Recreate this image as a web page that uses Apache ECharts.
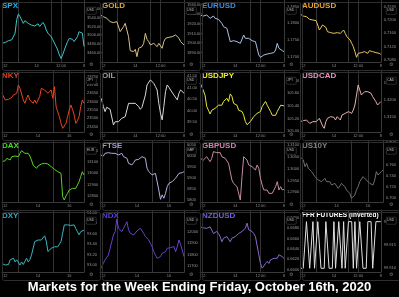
<!DOCTYPE html>
<html><head><meta charset="utf-8">
<script src="https://cdn.jsdelivr.net/npm/echarts/dist/echarts.min.js"></script>
<style>html,body{margin:0;padding:0;background:#000;}#c{width:399px;height:297px;}</style>
</head><body><div id="c"></div>
<script>
// ---- data ----
const panelNames = ['SPX','GOLD','EURUSD','AUDUSD','NKY','OIL','USDJPY','USDCAD','DAX','FTSE','GBPUSD','US10Y','DXY','NDX','NZDUSD','FFR FUTURES (Inverted)'];
const currencies = ['USD','USD','USD','USD','JPY','USD','JPY','CAD','EUR','GBP','USD','USD','USD','USD','USD','USD'];

const spx = [3482,3483,3484,3487,3488,3489,3490,3494,3505,3535,3548,3542,3538,3527,3533,3531,3527,3526,3523,3527,3521,3523,3526,3520,3523,3529,3523,3512,3505,3508,3497,3490,3486,3475,3467,3456,3448,3456,3467,3471,3486,3493,3490,3491,3486,3490,3497,3508,3512,3505,3475];
const gold = [1929.4,1928.3,1927.6,1929.4,1925.9,1924.1,1922.4,1924.1,1921.3,1923.4,1922.4,1920.6,1911.9,1910.1,1917.1,1920.6,1921.3,1906.6,1891.9,1892.6,1890.9,1893.3,1885.6,1894.4,1892.6,1896.1,1899.6,1910.1,1903.8,1901.4,1897.9,1896.1,1899.6,1897.9,1896.1,1899.6,1897.9,1894.4,1901.4,1904.9,1906.6,1905.9,1907.3,1906.6,1904.9,1908.4,1910.1,1904.9,1901.4,1899.6,1897.9];
const eurusd = [1.1825,1.1824,1.1822,1.1820,1.1825,1.1820,1.1815,1.1820,1.1822,1.1815,1.1810,1.1812,1.1808,1.1800,1.1790,1.1795,1.1785,1.1780,1.1745,1.1750,1.1748,1.1742,1.1745,1.1748,1.1740,1.1745,1.1765,1.1755,1.1750,1.1755,1.1752,1.1748,1.1752,1.1745,1.1725,1.1705,1.1698,1.1700,1.1705,1.1710,1.1708,1.1712,1.1710,1.1715,1.1712,1.1720,1.1740,1.1725,1.1722,1.1718,1.1715];
const audusd = [0.7218,0.7215,0.7212,0.7208,0.7210,0.7205,0.7202,0.7198,0.7200,0.7195,0.7198,0.7192,0.7170,0.7175,0.7185,0.7182,0.7178,0.7165,0.7160,0.7162,0.7158,0.7160,0.7165,0.7162,0.7158,0.7160,0.7165,0.7170,0.7160,0.7150,0.7145,0.7140,0.7130,0.7120,0.7105,0.7088,0.7100,0.7105,0.7102,0.7098,0.7105,0.7102,0.7100,0.7108,0.7102,0.7105,0.7100,0.7102,0.7098,0.7100,0.7097];
const nky = [23650,23640,23610,23620,23614,23614,23626,23640,23630,23650,23700,23680,23690,23610,23590,23620,23640,23610,23600,23590,23610,23590,23600,23630,23680,23690,23670,23680,23650,23640,23670,23620,23690,23570,23540,23510,23470,23440,23430,23470,23510,23550,23580,23554,23520,23470,23486,23510,23570,23610,23590];
const oil = [40.60,40.46,40.17,39.95,40.14,40.09,40.05,40.02,39.37,39.51,39.56,39.51,39.59,39.66,39.59,39.73,40.02,40.31,40.34,40.31,40.38,40.31,40.24,40.17,40.05,40.14,40.09,40.67,41.11,41.15,41.33,41.33,41.18,41.04,40.89,40.31,39.88,39.59,40.17,40.82,41.11,41.01,40.89,40.82,40.67,40.75,40.46,40.75,40.89,40.82,40.75];
const usdjpy = [105.76,105.71,105.71,105.57,105.39,105.33,105.27,105.33,105.31,105.36,105.36,105.41,105.44,105.41,105.47,105.49,105.52,105.47,105.59,105.55,105.44,105.47,105.41,105.33,105.34,105.31,105.25,105.15,105.10,105.12,105.15,105.18,105.23,105.20,105.28,105.25,105.31,105.39,105.36,105.47,105.41,105.36,105.31,105.25,105.23,105.25,105.31,105.36,105.41,105.41,105.40];
const usdcad = [1.3135,1.3140,1.3138,1.3142,1.3140,1.3135,1.3130,1.3132,1.3135,1.3130,1.3135,1.3140,1.3145,1.3140,1.3122,1.3115,1.3135,1.3145,1.3142,1.3150,1.3145,1.3148,1.3140,1.3150,1.3145,1.3140,1.3155,1.3150,1.3160,1.3155,1.3165,1.3160,1.3160,1.3170,1.3185,1.3215,1.3245,1.3240,1.3215,1.3220,1.3225,1.3230,1.3225,1.3230,1.3220,1.3210,1.3205,1.3195,1.3185,1.3190,1.3195];
const dax = [13105,13120,13114,13135,13126,13120,13150,13144,13156,13165,13150,13180,13204,13195,13180,13165,13180,13156,13120,13075,13060,13045,13066,13075,13084,13075,13090,13096,13084,13090,13060,13045,13036,13030,13015,13006,13000,12790,12760,12796,12820,12850,12835,12865,12880,12865,12895,12925,12970,13015,12985];
const ftse = [6003,6007,5998,6010,6003,6013,6007,6010,6018,6010,6013,6003,6007,6010,5995,5998,5988,5965,5973,5958,5968,5980,5973,5983,5988,5995,5998,5988,5943,5928,5920,5913,5905,5920,5913,5845,5803,5823,5808,5830,5860,5875,5868,5883,5875,5898,5905,5920,5913,5923,5928];
const gbpusd = [1.3043,1.3050,1.3036,1.3043,1.3050,1.3039,1.3029,1.3043,1.3071,1.3064,1.3067,1.3061,1.3067,1.3050,1.3057,1.3043,1.3050,1.3022,1.2987,1.2952,1.2938,1.2941,1.2924,1.2931,1.2868,1.2966,1.3050,1.3050,1.3036,1.3015,1.3022,1.3008,1.3015,1.2994,1.3015,1.3001,1.2959,1.2931,1.2910,1.2903,1.2910,1.2896,1.2903,1.2896,1.2910,1.2924,1.2945,1.2910,1.2924,1.2910,1.2913];
const us10y = [0.774,0.777,0.768,0.756,0.762,0.753,0.750,0.747,0.744,0.738,0.735,0.732,0.735,0.729,0.732,0.735,0.729,0.726,0.729,0.723,0.720,0.726,0.723,0.717,0.720,0.726,0.723,0.720,0.714,0.711,0.708,0.699,0.702,0.705,0.714,0.720,0.729,0.732,0.738,0.735,0.732,0.729,0.726,0.729,0.723,0.732,0.747,0.741,0.741,0.747,0.750];
const dxy = [93.03,93.06,93.00,93.03,93.01,93.10,93.08,93.13,93.06,93.10,93.13,93.00,93.06,93.01,93.03,93.13,93.06,93.10,93.19,93.16,93.45,93.45,93.48,93.46,93.48,93.51,93.56,93.46,93.26,93.26,93.32,93.33,93.35,93.32,93.35,93.38,93.45,93.61,93.77,93.76,93.77,93.80,93.76,93.78,93.77,93.70,93.64,93.58,93.64,93.65,93.67];
const ndx = [11665,11694,11723,11752,11766,11795,11853,11911,11969,11998,12108,12027,12042,11998,12027,12056,12085,12013,11984,11998,11969,11984,12004,11998,12027,12042,11984,11955,11940,11926,11897,11868,11824,11795,11766,11752,11781,11810,11795,11824,11853,11847,11859,11853,11868,11824,11868,11926,11888,11897,11781];
const nzdusd = [0.6683,0.6680,0.6681,0.6679,0.6680,0.6677,0.6683,0.6680,0.6670,0.6667,0.6674,0.6670,0.6664,0.6654,0.6661,0.6658,0.6664,0.6661,0.6654,0.6661,0.6658,0.6664,0.6667,0.6670,0.6667,0.6674,0.6677,0.6680,0.6690,0.6677,0.6680,0.6674,0.6670,0.6664,0.6661,0.6629,0.6612,0.6603,0.6607,0.6612,0.6616,0.6612,0.6619,0.6616,0.6622,0.6625,0.6622,0.6629,0.6632,0.6625,0.6622];
const ffr = [99.910,99.910,99.910,99.910,99.920,99.920,99.910,99.910,99.920,99.910,99.910,99.920,99.920,99.910,99.910,99.910,99.920,99.920,99.910,99.910,99.910,99.920,99.910,99.910,99.920,99.920,99.910,99.920,99.910,99.910,99.920,99.920,99.920,99.910,99.920,99.910,99.910,99.920,99.920,99.910,99.910,99.910,99.920,99.920,99.920,99.910,99.910,99.920,99.920,99.920,99.920];
const panelSeries = [spx,gold,eurusd,audusd,nky,oil,usdjpy,usdcad,dax,ftse,gbpusd,us10y,dxy,ndx,nzdusd,ffr];

// y-axis bounds and tick steps
const yMins  = [3440, 1880, 1.1684, 0.7074, 23418, 39.063, 104.984, 1.3104, 12742, 5791, 1.28596, 0.6924, 92.866, 11647, 0.65955, 99.9092];
const yMaxs  = [3579.5, 1945.1, 1.1870, 0.7260, 23790, 41.76, 105.97, 1.3290, 13300, 6070, 1.3120, 0.804, 94.056, 12186.5, 0.67155, 99.9225];
const ySteps = [20, 10, 0.005, 0.004, 50, 0.5, 0.2, 0.005, 100, 50, 0.005, 0.02, 0.2, 100, 0.002, 0.005];
const yDecimals = [2, 2, 4, 4, 0, 2, 2, 4, 0, 0, 4, 3, 2, 0, 4, 3];

// x tick labels: [index, label]
const xTicksWeek = [[2,'12'],[21,'14'],[36,'12:00'],[50,'8']];
const xTicksDays = [[2,'12'],[22,'14'],[41,'16']];
const xSplitsWeek = [10, 30, 36];
const xSplitsDays = [10, 31, 41];
const panelXTicks = [xTicksWeek,xTicksWeek,xTicksWeek,xTicksWeek, xTicksDays,xTicksWeek,xTicksWeek,xTicksWeek, xTicksDays,xTicksDays,xTicksWeek,xTicksDays, xTicksDays,xTicksDays,xTicksWeek,xTicksWeek];
const panelXSplits = [xSplitsWeek,xSplitsWeek,xSplitsWeek,xSplitsWeek, xSplitsDays,xSplitsWeek,xSplitsWeek,xSplitsWeek, xSplitsDays,xSplitsDays,xSplitsWeek,xSplitsDays, xSplitsDays,xSplitsDays,xSplitsWeek,xSplitsWeek];

const mainTitle = 'Markets for the Week Ending Friday, October 16th, 2020';

// ---- styles ----
const lineColors  = ['#3fc4c8','#d8c088','#a8c4e8','#e6c65a','#e8461e','#d8d8d8','#e8e830','#e8b0b0','#5ad21e','#b4aee0','#c88aa8','#6e6e6e','#3cb4c0','#6a40d0','#8a6ad0','#e0e0e0'];
const titleColors = ['#22b4e8','#e8a820','#3a8ae8','#e8a030','#f03a1e','#a0a0a0','#f0f020','#e890c0','#40e020','#9a9ad8','#d880b0','#808080','#30a8c8','#5a3ae0','#7a5ae0','#ffffff'];
const titleSizes  = [8,8,8,8,8,8,8,8,8,8,8,8,8,8,8,6.5];

const PW = 100, PH = 70, PLOT_W = 84, PLOT_H = 62;
const grids = [], xAxes = [], yAxes = [], series = [], titles = [], graphics = [];

panelSeries.forEach((data, i) => {
  const px = (i % 4) * PW, py = Math.floor(i / 4) * PH;
  grids.push({left: px, top: py, width: PLOT_W, height: PLOT_H, show: false});
  const tickMap = {}; panelXTicks[i].forEach(t => tickMap[t[0]] = t[1]);
  const splits = panelXSplits[i];
  xAxes.push({
    type: 'category', gridIndex: i, boundaryGap: false,
    data: data.map((_, k) => k),
    axisLine: {show: true, lineStyle: {color: '#3a3a3a', width: 1}},
    axisTick: {show: false},
    axisLabel: {show: true, fontSize: 4, color: '#8a8a8a', margin: 2, fontFamily: 'Liberation Sans',
      interval: (k) => tickMap[k] !== undefined, formatter: (v, k) => tickMap[k] || ''},
    splitLine: {show: true, interval: (k) => splits.includes(k), lineStyle: {color: '#333', width: 1}}
  });
  yAxes.push({
    type: 'value', gridIndex: i, position: 'right', scale: true,
    min: yMins[i], max: yMaxs[i], minInterval: ySteps[i], maxInterval: ySteps[i],
    axisLine: {show: true, lineStyle: {color: '#3a3a3a', width: 1}},
    axisTick: {show: false},
    splitLine: {show: false},
    axisLabel: {show: true, fontSize: 4, color: '#9a9a9a', margin: 3, fontFamily: 'Liberation Sans',
      showMinLabel: false, showMaxLabel: false, formatter: (v) => v.toFixed(yDecimals[i])}
  });
  series.push({
    type: 'line', xAxisIndex: i, yAxisIndex: i, data: data, showSymbol: false, symbol: 'none',
    lineStyle: {color: lineColors[i], width: 1}, silent: true, animation: false
  });
  titles.push({
    text: panelNames[i], left: px + 2, top: py + 2, padding: 0,
    textStyle: {color: titleColors[i], fontSize: titleSizes[i], fontWeight: 'bold', fontFamily: 'Liberation Sans'}
  });
  // panel frame
  graphics.push({type: 'rect', left: px, top: py, shape: {width: PW - 2, height: PH - 2, r: 2},
    style: {fill: 'none', stroke: '#2e2e2e', lineWidth: 1}, z: 100, silent: true});
  // currency box
  graphics.push({type: 'rect', left: px + 86, top: py + 7, shape: {width: 10, height: 7, r: 1},
    style: {fill: '#000', stroke: '#555', lineWidth: 0.5}, z: 101, silent: true});
  graphics.push({type: 'text', left: px + 87, top: py + 8.5, style: {text: currencies[i], fill: '#bbb', fontSize: 3.5, fontFamily: 'Liberation Sans'}, z: 102, silent: true});
  // gear
  graphics.push({type: 'text', left: px + 89, top: py + 62, style: {text: '\u2699', fill: '#777', fontSize: 5, fontFamily: 'DejaVu Sans'}, z: 102, silent: true});
});

titles.push({
  text: mainTitle, left: 'center', top: 281, padding: 0,
  textStyle: {color: '#ffffff', fontSize: 13, fontWeight: 'bold', fontFamily: 'Liberation Sans'}
});

const chart = echarts.init(document.getElementById('c'), null, {renderer: 'canvas'});
chart.setOption({
  backgroundColor: '#000',
  animation: false,
  title: titles,
  grid: grids, xAxis: xAxes, yAxis: yAxes, series: series,
  graphic: graphics
});
</script>
</body></html>
